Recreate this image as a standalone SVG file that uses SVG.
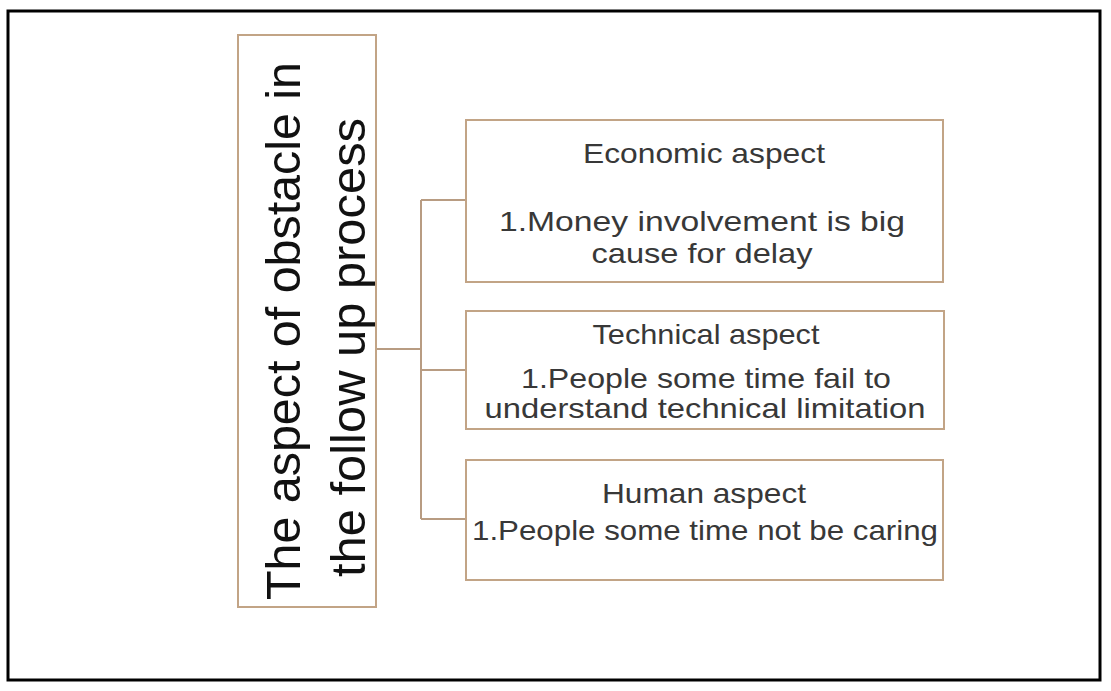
<svg xmlns="http://www.w3.org/2000/svg" width="1111" height="691" viewBox="0 0 1111 691">
  <style>
    .frame { fill: none; stroke: #000; stroke-width: 3; }
    .box { fill: #fff; stroke: #c2a486; stroke-width: 2; }
    .link { fill: none; stroke: #b89c82; stroke-width: 2; }
    .title { font-family: "Liberation Sans", Arial, sans-serif; font-size: 48px; fill: #111; }
    .lbl { font-family: "Liberation Sans", Arial, sans-serif; font-size: 28px; fill: #383838; text-anchor: middle; }
  </style>
  <rect width="1111" height="691" fill="#fff"/>
  <rect class="frame" x="8" y="11" width="1092" height="669"/>

  <g id="connectors">
    <path class="link" d="M376,349 H421"/>
    <path class="link" d="M421,200 V519"/>
    <path class="link" d="M421,200 H466"/>
    <path class="link" d="M421,370 H466"/>
    <path class="link" d="M421,519 H466"/>
  </g>

  <g id="root">
    <rect class="box" x="238" y="35" width="138" height="572"/>
    <text class="title" transform="translate(300,600) rotate(-90)" textLength="538" lengthAdjust="spacingAndGlyphs">The aspect of obstacle in</text>
    <text class="title" transform="translate(365,577) rotate(-90)" textLength="459" lengthAdjust="spacingAndGlyphs">the follow up process</text>
  </g>

  <g id="economic">
    <rect class="box" x="466" y="120" width="477" height="162"/>
    <text class="lbl" x="704" y="163" textLength="242" lengthAdjust="spacingAndGlyphs">Economic aspect</text>
    <text class="lbl" x="702" y="231" textLength="406" lengthAdjust="spacingAndGlyphs">1.Money involvement is big</text>
    <text class="lbl" x="702" y="263" textLength="221" lengthAdjust="spacingAndGlyphs">cause for delay</text>
  </g>

  <g id="technical">
    <rect class="box" x="466" y="311" width="478" height="118"/>
    <text class="lbl" x="706" y="344" textLength="227" lengthAdjust="spacingAndGlyphs">Technical aspect</text>
    <text class="lbl" x="706" y="388" textLength="370" lengthAdjust="spacingAndGlyphs">1.People some time fail to</text>
    <text class="lbl" x="705" y="418" textLength="441" lengthAdjust="spacingAndGlyphs">understand technical limitation</text>
  </g>

  <g id="human">
    <rect class="box" x="466" y="460" width="477" height="120"/>
    <text class="lbl" x="704" y="503" textLength="204" lengthAdjust="spacingAndGlyphs">Human aspect</text>
    <text class="lbl" x="705" y="540" textLength="466" lengthAdjust="spacingAndGlyphs">1.People some time not be caring</text>
  </g>
</svg>
